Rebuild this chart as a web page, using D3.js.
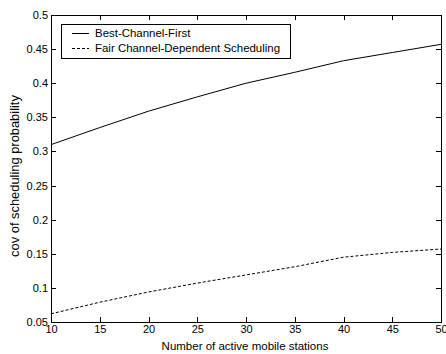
<!DOCTYPE html>
<html><head><meta charset="utf-8">
<script src="https://cdn.jsdelivr.net/npm/d3@7"></script>
<style>body{margin:0;background:#fff}svg{display:block}text{font-family:"Liberation Sans",Arial,sans-serif;fill:#000}</style>
</head><body><svg id="c" width="446" height="354"></svg>
<script>
const stations = [10, 15, 20, 25, 30, 35, 40, 45, 50];
const bestChannelFirst = [0.31, 0.335, 0.359, 0.38, 0.40, 0.416, 0.433, 0.445, 0.457];
const fairChannelDependent = [0.062, 0.079, 0.094, 0.107, 0.119, 0.131, 0.145, 0.152, 0.157];
const xTicks = [10, 15, 20, 25, 30, 35, 40, 45, 50];
const yTicks = [0.05, 0.1, 0.15, 0.2, 0.25, 0.3, 0.35, 0.4, 0.45, 0.5];
const seriesNames = ["Best-Channel-First", "Fair Channel-Dependent Scheduling"];

const svg = d3.select("#c");
const L = 51, R = 441, T = 15, B = 322;
const x = d3.scaleLinear().domain([10, 50]).range([L, R]);
const y = d3.scaleLinear().domain([0.05, 0.5]).range([B, T]);
const fmt = d => String(+d.toFixed(2));

// fit font size so text spans a target width
function fit(t, w) {
  const l = t.node().getComputedTextLength();
  const fs = parseFloat(t.attr("font-size"));
  t.attr("font-size", (fs * w / l).toFixed(2));
}

svg.append("rect").attr("x", L).attr("y", T).attr("width", R - L).attr("height", B - T)
  .attr("fill", "none").attr("stroke", "#000").attr("stroke-width", 1).attr("shape-rendering", "crispEdges");

const tl = 5;
const ax = svg.append("g").attr("transform", `translate(0,${B})`)
  .call(d3.axisBottom(x).tickValues(xTicks).tickSizeInner(-tl).tickSizeOuter(0).tickPadding(3).tickFormat(d => d));
const ay = svg.append("g").attr("transform", `translate(${L},0)`)
  .call(d3.axisLeft(y).tickValues(yTicks).tickSizeInner(-tl).tickSizeOuter(0).tickPadding(3).tickFormat(fmt));
const at = svg.append("g").attr("transform", `translate(0,${T})`)
  .call(d3.axisTop(x).tickValues(xTicks).tickSizeInner(-tl).tickSizeOuter(0).tickFormat(""));
const ar = svg.append("g").attr("transform", `translate(${R},0)`)
  .call(d3.axisRight(y).tickValues(yTicks).tickSizeInner(-tl).tickSizeOuter(0).tickFormat(""));
[ax, ay, at, ar].forEach(g => {
  g.select(".domain").remove();
  g.selectAll("line").attr("stroke", "#000").attr("shape-rendering", "crispEdges");
  g.selectAll("text").attr("font-size", 11).attr("font-family", "Liberation Sans,Arial,sans-serif").attr("fill", "#000");
});

const line = d3.line().x((d, i) => x(stations[i])).y(d => y(d));
svg.append("path").datum(bestChannelFirst).attr("d", line)
  .attr("fill", "none").attr("stroke", "#000").attr("stroke-width", 1);
svg.append("path").datum(fairChannelDependent).attr("d", line)
  .attr("fill", "none").attr("stroke", "#000").attr("stroke-width", 1).attr("stroke-dasharray", "3,2");

const xt = svg.append("text").attr("x", 245).attr("y", 350).attr("text-anchor", "middle")
  .attr("font-size", 11).text("Number of active mobile stations");
fit(xt, 167);
const yt = svg.append("text").attr("transform", `translate(19,176) rotate(-90)`).attr("text-anchor", "middle")
  .attr("font-size", 11).text("cov of scheduling probability");
fit(yt, 162);

const lg = svg.append("g");
lg.append("rect").attr("x", 61).attr("y", 24).attr("width", 229).attr("height", 34)
  .attr("fill", "#fff").attr("stroke", "#000").attr("shape-rendering", "crispEdges");
seriesNames.forEach((n, i) => {
  const yy = 33 + i * 15;
  lg.append("line").attr("x1", 72).attr("x2", 89).attr("y1", yy).attr("y2", yy)
    .attr("stroke", "#000").attr("stroke-dasharray", i ? "3,2" : null).attr("shape-rendering", "crispEdges");
  const t = lg.append("text").attr("x", 95).attr("y", yy + 4).attr("font-size", 11.5).text(n);
  if (i === 1) fit(t, 185);
});
lg.selectAll("text").attr("font-size", lg.selectAll("text").filter((d, i) => i === 1).attr("font-size"));
</script></body></html>
